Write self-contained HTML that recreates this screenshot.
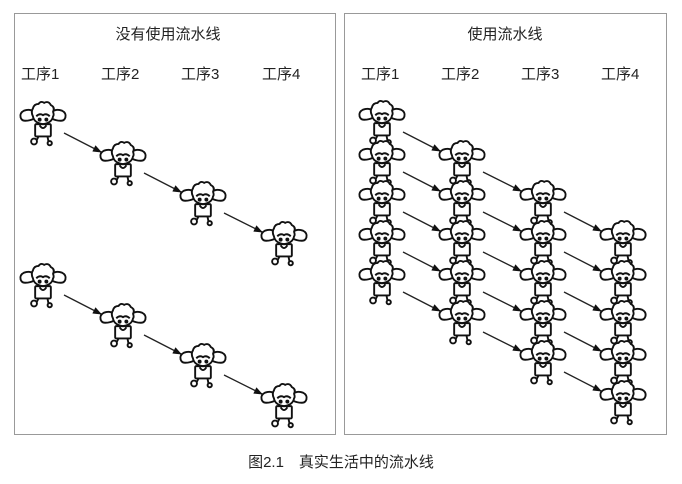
<!DOCTYPE html>
<html><head><meta charset="utf-8"><style>
body{margin:0;background:#fff;width:682px;height:484px;overflow:hidden}
svg{display:block}
text{font-family:"Liberation Sans","Noto Sans CJK SC",sans-serif;fill:#222}
</style></head><body>
<svg width="682" height="484" viewBox="0 0 682 484" xmlns="http://www.w3.org/2000/svg">
<defs>
<marker id="ah" markerWidth="9" markerHeight="7" refX="8" refY="3.5" orient="auto" markerUnits="userSpaceOnUse">
<path d="M0,0 L9,3.5 L0,7 z" fill="#111"/></marker>
<g id="c" fill="#fff" stroke="#111" stroke-width="1.7" transform="scale(1.12)">
<path d="M-8,-10 q-4,-3 -9,-1 q-4,2 -3,6 q1,3 4,3 q5,0 8,-2 z"/>
<path d="M8,-10 q4,-3 9,-1 q4,2 3,6 q-1,3 -4,3 q-5,0 -8,-2 z"/>
<rect x="-7" y="1" width="14" height="11" rx="1"/>
<line x1="-4" y1="12" x2="-6" y2="16"/><line x1="4" y1="12" x2="5" y2="17"/>
<circle cx="-8" cy="16.5" r="2.6"/><circle cx="6" cy="18" r="1.9"/>
<path d="M-9,-6 q-2,-4 0,-7 q1,-4 5,-4 q2,-3 5,-1 q4,-2 6,2 q4,2 2,6 q1,3 0,4 q-1,6 -9,7 q-8,-1 -9,-7 z"/>
<path d="M-6,-6 q3,-3 6,-1 q3,-2 6,1" fill="none"/>
<circle cx="-3" cy="-3" r="0.9" fill="#111"/><circle cx="3" cy="-3" r="0.9" fill="#111"/>
<path d="M-3,2 q3,5 6,0" fill="none"/>
</g>
</defs>
<rect x="14.5" y="13.5" width="321" height="421" fill="none" stroke="#999" stroke-width="1"/>
<rect x="344.5" y="13.5" width="322" height="421" fill="none" stroke="#999" stroke-width="1"/>
<text x="168" y="39" font-size="15" text-anchor="middle">没有使用流水线</text>
<text x="505" y="39" font-size="15" text-anchor="middle">使用流水线</text>
<g font-size="15">
<text x="21" y="79">工序1</text><text x="101" y="79">工序2</text><text x="181" y="79">工序3</text><text x="262" y="79">工序4</text>
<text x="361" y="79">工序1</text><text x="441" y="79">工序2</text><text x="521" y="79">工序3</text><text x="601" y="79">工序4</text>
</g>
<text x="341" y="467" font-size="15" text-anchor="middle">图2.1　真实生活中的流水线</text>
<g>
<use href="#c" x="43" y="123"/><use href="#c" x="123" y="163"/><use href="#c" x="203" y="203"/><use href="#c" x="284" y="243"/>
<use href="#c" x="43" y="285"/><use href="#c" x="123" y="325"/><use href="#c" x="203" y="365"/><use href="#c" x="284" y="405"/>
<use href="#c" x="382" y="122"/><use href="#c" x="382" y="162"/><use href="#c" x="382" y="202"/><use href="#c" x="382" y="242"/><use href="#c" x="382" y="282"/>
<use href="#c" x="462" y="162"/><use href="#c" x="462" y="202"/><use href="#c" x="462" y="242"/><use href="#c" x="462" y="282"/><use href="#c" x="462" y="322"/>
<use href="#c" x="543" y="202"/><use href="#c" x="543" y="242"/><use href="#c" x="543" y="282"/><use href="#c" x="543" y="322"/><use href="#c" x="543" y="362"/>
<use href="#c" x="623" y="242"/><use href="#c" x="623" y="282"/><use href="#c" x="623" y="322"/><use href="#c" x="623" y="362"/><use href="#c" x="623" y="402"/>
</g>
<g stroke="#222" stroke-width="1.3" marker-end="url(#ah)">
<line x1="64" y1="133" x2="101" y2="152"/><line x1="144" y1="173" x2="181" y2="192"/><line x1="224" y1="213" x2="262" y2="232"/>
<line x1="64" y1="295" x2="101" y2="314"/><line x1="144" y1="335" x2="181" y2="354"/><line x1="224" y1="375" x2="262" y2="394"/>
<line x1="403" y1="132" x2="440" y2="151"/><line x1="403" y1="172" x2="440" y2="191"/><line x1="403" y1="212" x2="440" y2="231"/><line x1="403" y1="252" x2="440" y2="271"/><line x1="403" y1="292" x2="440" y2="311"/>
<line x1="483" y1="172" x2="521" y2="191"/><line x1="483" y1="212" x2="521" y2="231"/><line x1="483" y1="252" x2="521" y2="271"/><line x1="483" y1="292" x2="521" y2="311"/><line x1="483" y1="332" x2="521" y2="351"/>
<line x1="564" y1="212" x2="601" y2="231"/><line x1="564" y1="252" x2="601" y2="271"/><line x1="564" y1="292" x2="601" y2="311"/><line x1="564" y1="332" x2="601" y2="351"/><line x1="564" y1="372" x2="601" y2="391"/>
</g>
</svg>
</body></html>
